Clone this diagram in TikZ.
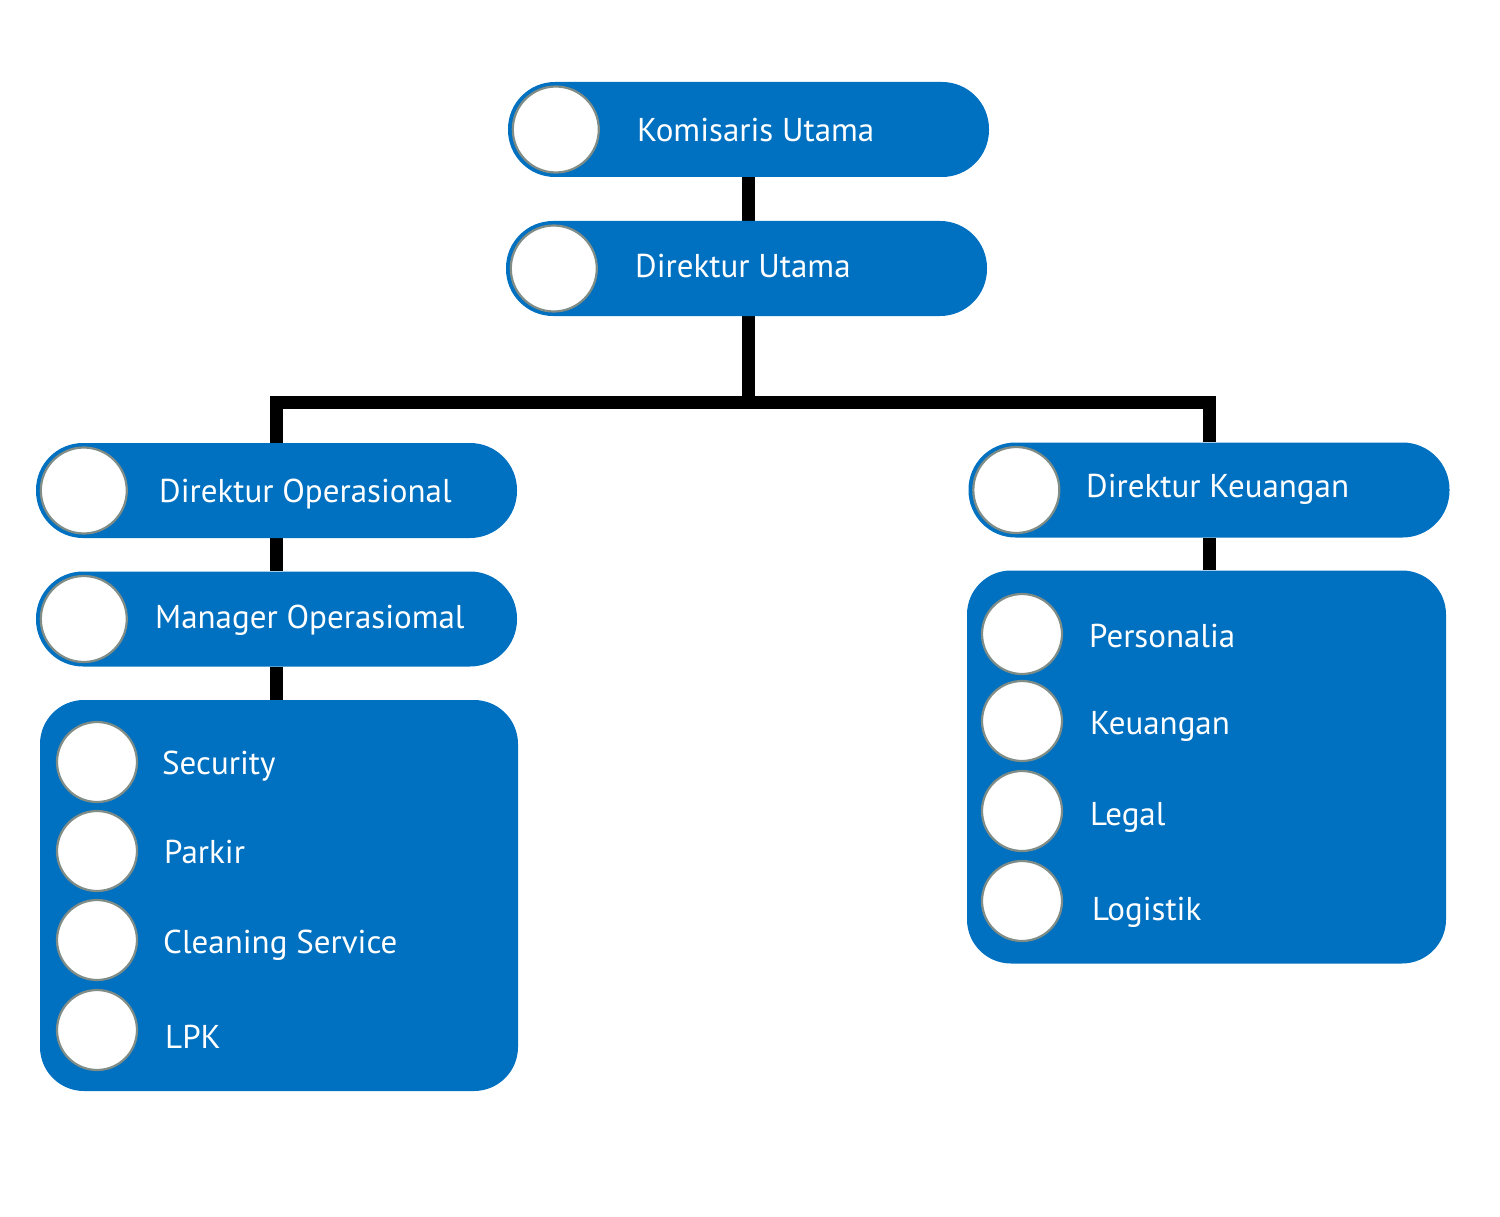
\documentclass[tikz,border=0pt]{standalone}
\usepackage{fontspec}
\setmainfont{PT Sans}
\usepackage{tikz}
\usetikzlibrary{
  positioning,
  backgrounds
}
\definecolor{orgblue}{RGB}{0, 112, 192}
\definecolor{discrim}{RGB}{128, 140, 134}
\tikzset{
  pill/.style = {
    rectangle, rounded corners=47pt,
    fill=orgblue, minimum width=481pt, minimum height=95pt,
    inner sep=0pt
  },
  panel/.style = {
    rectangle, rounded corners=44pt,
    fill=orgblue, inner sep=0pt
  },
  disc/.style = {
    circle, fill=white, draw=discrim, line width=2.2pt,
    minimum size=#1, inner sep=0pt
  },
  disc/.default = 86pt,
  lbl/.style = {
    anchor=base west, inner sep=0pt, text=white,
    font=\fontsize{33pt}{40pt}\selectfont
  },
  link/.style = {draw=black, line width=13pt, line join=miter},
}

\begin{document}
\begin{tikzpicture}[x=1pt, y=-1pt]
  \useasboundingbox (0,0) rectangle (1500,1217);

  % top of the chart
  \node[pill] (ku) at (748.5,129.5) {};
  \node[disc] (kuc) at ([xshift=48pt]ku.west) {};
  \node[lbl] (kut) at (637,141.5) {Komisaris Utama};

  \node[pill] (du) at (746.5,268.5) {};
  \node[disc] (duc) at ([xshift=48pt]du.west) {};
  \node[lbl] (dut) at (635,277) {Direktur Utama};

  % left branch
  \node[pill] (dop) at (276.5,490.5) {};
  \node[disc] (dopc) at ([xshift=48pt]dop.west) {};
  \node[lbl] (dopt) at (159,502) {Direktur Operasional};

  \node[pill] (mop) at (276.5,619) {};
  \node[disc] (mopc) at ([xshift=48pt]mop.west) {};
  \node[lbl] (mopt) at (155,628) {Manager Operasiomal};

  \node[panel, minimum width=478pt, minimum height=391pt]
    (lp) at (279,895.5) {};
  \node[disc=80pt] (secc) at (97,762) {};
  \node[lbl] (sect) at (162,774) {Security};
  \node[disc=80pt] (parc) at (97,851) {};
  \node[disc=80pt] (clnc) at (97,940) {};
  \node[disc=80pt] (lpkc) at (97,1030) {};
  \node[lbl] (part) at (164,863) {Parkir};
  \node[lbl] (clnt) at (163,953) {Cleaning Service};
  \node[lbl] (lpkt) at (165,1048) {LPK};

  % right branch
  \node[pill] (dk) at (1209,490) {};
  \node[disc] (dkc) at ([xshift=48pt]dk.west) {};
  \node[lbl] (dkt) at (1086,497) {Direktur Keuangan};

  \node[panel, minimum width=479pt, minimum height=393pt]
    (rp) at (1206.5,767) {};
  \node[disc=80pt] (perc) at (1022,634) {};
  \node[disc=80pt] (keuc) at (1022,721) {};
  \node[disc=80pt] (legc) at (1022,811) {};
  \node[disc=80pt] (logc) at (1022,901) {};
  \node[lbl] (pert) at (1089,647) {Personalia};
  \node[lbl] (keut) at (1090,734) {Keuangan};
  \node[lbl] (legt) at (1090,825) {Legal};
  \node[lbl] (logt) at (1092,920) {Logistik};

  \coordinate (bus) at (748,402.5);

  %% Connectors
  \begin{scope}[on background layer]
    \draw[link] (ku.south) -- (ku.south |- du.north);
    \draw[link] (du.south -| bus) -- (bus);
    \draw[link] (dop.north) |- (bus) -| (dk.north);
    \draw[link] (dop) -- (mop);
    \draw[link] (mop.south) -- (mop.south |- lp.north);
    \draw[link] (dk.south) -- (dk.south |- rp.north);
  \end{scope}

\end{tikzpicture}
\end{document}
